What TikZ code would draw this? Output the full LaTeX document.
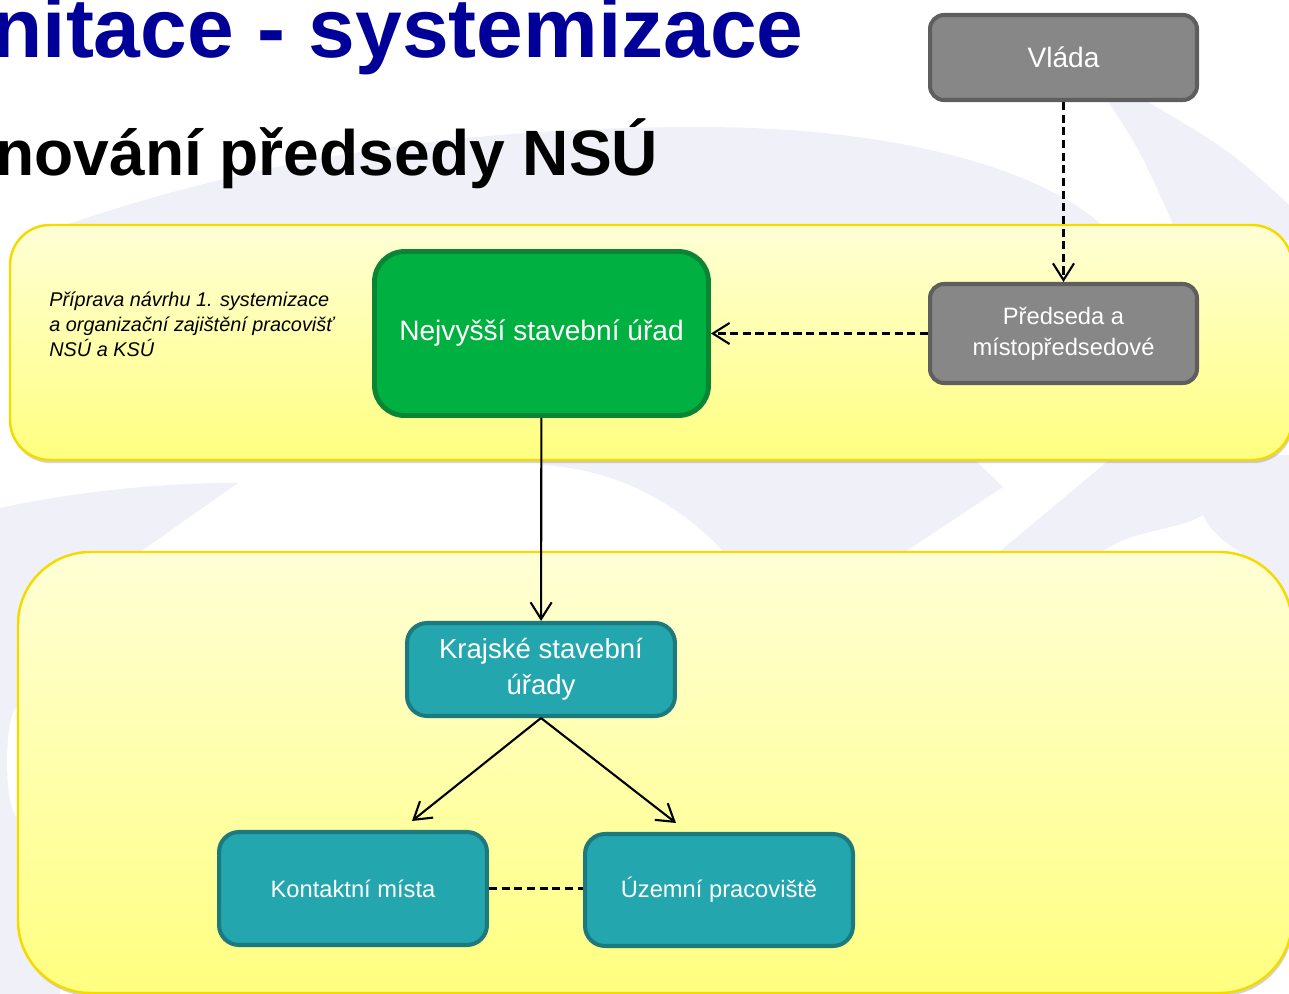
\documentclass[tikz,border=0pt]{standalone}
\usepackage{fontspec}
\setmainfont{Liberation Sans}
\usetikzlibrary{arrows.meta,positioning,shadows}

\definecolor{titleblue}{RGB}{0,0,153}
\definecolor{swoosh}{RGB}{240,240,248}
\definecolor{panelline}{RGB}{245,218,0}
\definecolor{paneltop}{RGB}{255,255,214}
\definecolor{panelbottom}{RGB}{255,255,128}
\definecolor{grayfill}{RGB}{135,135,135}
\definecolor{grayline}{RGB}{94,94,94}
\definecolor{greenfill}{RGB}{0,176,64}
\definecolor{greenline}{RGB}{10,133,52}
\definecolor{tealfill}{RGB}{35,166,173}
\definecolor{tealline}{RGB}{28,122,127}

\tikzset{
    panel/.style={draw=panelline, line width=1.4pt, top color=paneltop, bottom color=panelbottom,
        drop shadow={shadow xshift=0.6pt, shadow yshift=-1.8pt, opacity=0.35}},
    govbox/.style={rectangle, rounded corners=0.28cm, draw=grayline, fill=grayfill, line width=2.3pt,
        text=white, align=center, minimum width=5.34cm},
    nsubox/.style={rectangle, rounded corners=0.6cm, draw=greenline, fill=greenfill, line width=2.8pt,
        text=white, align=center, minimum width=6.68cm, minimum height=3.28cm,
        font=\fontsize{16}{19}\selectfont},
    ksubox/.style={rectangle, rounded corners=0.4cm, draw=tealline, fill=tealfill, line width=2.3pt,
        text=white, align=center, minimum width=5.36cm},
    dasharrow/.style={line width=1.2pt, dash pattern=on 4.6pt off 2.6pt, -{Straight Barb[length=9.5pt,width=12pt]}},
    solidarrow/.style={line width=1.2pt, -{Straight Barb[length=9.5pt,width=12pt]}},
    dashline/.style={line width=1.2pt, dash pattern=on 4.6pt off 2.6pt}
}

\begin{document}
\begin{tikzpicture}[x=0.02cm, y=-0.02cm]
    \useasboundingbox (0,0) rectangle (1289,994);
    \clip (0,0) rectangle (1289,994);
    % background swooshes of the slide
    \fill[swoosh] (45,232) .. controls (250,160) and (450,127) .. (700,127)
        .. controls (900,127) and (1040,170) .. (1102,225) -- (1110,440) -- (975,460)
        -- (1003,487) -- (905,552) -- (724,552) .. controls (680,505) and (620,470) .. (543,465)
        -- (543,440) -- (80,440) -- cycle;
    \fill[swoosh] (1104,95) .. controls (1140,150) .. (1180,240) -- (1300,240) -- (1300,215)
        .. controls (1230,150) .. (1136,95) -- cycle;
    \fill[swoosh] (1115,455) -- (999,552) -- (1102,552) .. controls (1130,530) and (1180,530) .. (1203,515)
        .. controls (1212,535) and (1230,545) .. (1240,552) -- (1300,620) -- (1300,455) -- cycle;
    \fill[swoosh] (0,508) .. controls (80,490) and (180,482) .. (238,483) -- (140,552) -- (120,600)
        -- (60,650) -- (60,1000) -- (0,1000) -- cycle;
    \fill[white] (18,762) ellipse [x radius=0.22cm, y radius=1.1cm];

    % headings
    \node[anchor=base west, inner sep=0, text=titleblue, font=\fontsize{47.8}{52}\bfseries] (title)
        at (-9,57) {nitace - systemizace};
    \node[anchor=base west, inner sep=0, font=\fontsize{36.5}{40}\bfseries] (subtitle)
        at (-5,175) {nování předsedy NSÚ};

    % yellow panels
    \path[panel, rounded corners=0.8cm] (10,225) rectangle (1292,460);
    \path[panel, rounded corners=1.45cm] (18,552) rectangle (1292,993);

    \node[anchor=west, inner sep=0, align=left, font=\fontsize{11.3}{14.2}\selectfont\itshape] (note)
        at (49,324) {Příprava návrhu 1. systemizace\\a organizační zajištění pracovišť\\NSÚ a KSÚ};

    % organisation
    \node[govbox, minimum height=1.70cm, font=\fontsize{16}{19}\selectfont] (vlada) at (1063.5,57.5) {Vláda};
    \node[govbox, minimum height=1.98cm, font=\fontsize{13.5}{17.6}\selectfont] (predseda) at (1063.5,333.5)
        {Předseda a\\místopředsedové};
    \node[nsubox] (nsu) at (541.5,333.5) {Nejvyšší stavební úřad};
    \node[ksubox, minimum height=1.86cm, font=\fontsize{15.7}{20.4}\selectfont] (ksu) at (541,669.5)
        {Krajské stavební\\úřady};
    \node[ksubox, minimum height=2.26cm, font=\fontsize{13.5}{16}\selectfont] (kontakt) at (353,888.5)
        {Kontaktní místa};
    \node[ksubox, minimum height=2.24cm, font=\fontsize{13.5}{16}\selectfont] (uzemni) at (719,890)
        {Územní pracoviště};

    \coordinate (kontaktTip) at (412,821);
    \coordinate (uzemniTip) at (676,823);

    \draw[dasharrow] (vlada) -- (predseda);
    \draw[dasharrow] (predseda) -- (nsu);
    \draw[solidarrow] (nsu) -- (ksu);
    \draw[solidarrow] (ksu.south) -- (kontaktTip);
    \draw[solidarrow] (ksu.south) -- (uzemniTip);
    \draw[dashline] (kontakt.east) -- (kontakt.east -| uzemni.west);
\end{tikzpicture}
\end{document}
